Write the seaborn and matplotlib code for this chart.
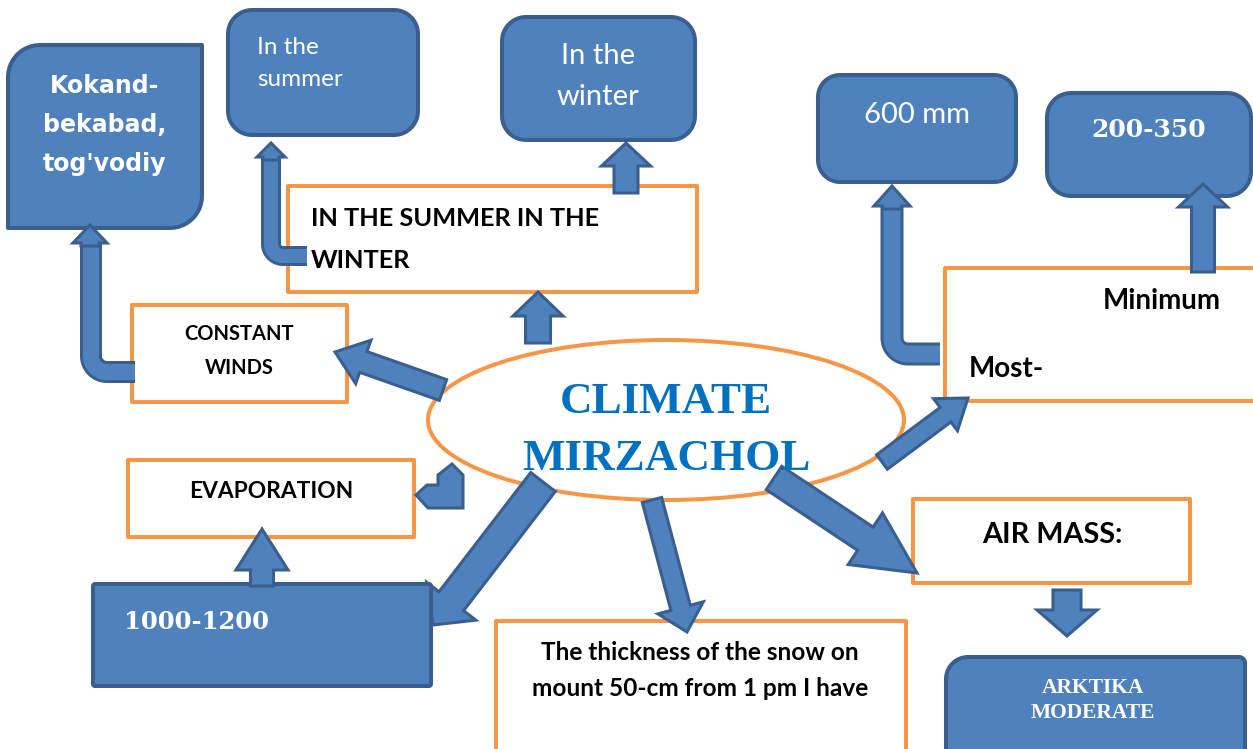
import numpy as np
import matplotlib
matplotlib.use("Agg")
import matplotlib.pyplot as plt
import seaborn as sns
from matplotlib.patches import Polygon, Ellipse

sns.set_theme(style="white")
plt.rcParams['font.family'] = ['Lato', 'DejaVu Sans']

# ---- texts (content) ----
title_lines = ["CLIMATE", "MIRZACHOL"]
kokand_lines = ["Kokand-", "bekabad,", "tog'vodiy"]
summer_lines = ["In the", "summer"]
winter_lines = ["In the", "winter"]
season_lines = ["IN THE SUMMER IN THE", "WINTER"]
winds_lines = ["CONSTANT", "WINDS"]
evap_label = "EVAPORATION"
evap_value = "1000-1200"
snow_lines = ["The thickness of the snow on", "mount 50-cm from 1 pm I have"]
precip_labels = ["Minimum", "Most-"]
precip_most = "600 mm"
precip_min = "200-350"
air_label = "AIR MASS:"
air_lines = ["ARKTIKA", "MODERATE"]

BLUE = "#4F81BD"
BLUE_EDGE = "#3A5F8F"
ORANGE = "#F79646"
TITLE = "#0070C0"

W, H = 1253, 749
fig = plt.figure(figsize=(W / 100, H / 100), dpi=100)
ax = fig.add_axes([0, 0, 1, 1])
ax.set_xlim(0, W)
ax.set_ylim(H, 0)
ax.axis("off")

LW = 2.9  # ~4px


def rounded_pts(x0, y0, x1, y1, radii):
    tl, tr, br, bl = radii
    pts = []

    def arc(cx, cy, r, a0, a1):
        if r <= 0:
            return [(cx, cy)]
        t = np.linspace(a0, a1, 12)
        return list(zip(cx + r * np.cos(t), cy + r * np.sin(t)))
    pts += arc(x0 + tl, y0 + tl, tl, np.pi, 1.5 * np.pi)
    pts += arc(x1 - tr, y0 + tr, tr, 1.5 * np.pi, 2 * np.pi)
    pts += arc(x1 - br, y1 - br, br, 0, 0.5 * np.pi)
    pts += arc(x0 + bl, y1 - bl, bl, 0.5 * np.pi, np.pi)
    return pts


def blue_box(x0, y0, x1, y1, radii=(20, 20, 20, 20), z=3):
    ax.add_patch(Polygon(rounded_pts(x0, y0, x1, y1, radii), closed=True,
                         fc=BLUE, ec=BLUE_EDGE, lw=LW, zorder=z, joinstyle="round"))


def orange_box(x0, y0, x1, y1, z=2):
    ax.add_patch(Polygon([(x0, y0), (x1, y0), (x1, y1), (x0, y1)], closed=True,
                         fc="white", ec=ORANGE, lw=LW, zorder=z, joinstyle="round"))


def block_arrow(tail, tip, shaft, head_w, head_len, z=4):
    tail = np.array(tail, float)
    tip = np.array(tip, float)
    d = tip - tail
    d /= np.linalg.norm(d)
    n = np.array([-d[1], d[0]])
    base = tip - d * head_len
    pts = [tail + n * shaft / 2, base + n * shaft / 2, base + n * head_w / 2, tip,
           base - n * head_w / 2, base - n * shaft / 2, tail - n * shaft / 2]
    ax.add_patch(Polygon(pts, closed=True, fc=BLUE, ec=BLUE_EDGE, lw=2.2, zorder=z,
                         joinstyle="miter"))


def bent_arrow(start, corner, tip, shaft, head_w, head_len, r, z=4):
    sx, sy = start
    cx, cy = corner
    tx, ty = tip
    base_y = ty + head_len
    sgn = 1 if sx > cx else -1
    acx, acy = cx + sgn * r, cy - r
    line = [(sx, sy), (cx + sgn * r, cy)]
    for a in np.linspace(0, np.pi / 2, 20):
        line.append((acx - sgn * r * np.sin(a), acy + r * np.cos(a)))
    line.append((cx, base_y + 1))
    xs, ys = zip(*line)
    ax.plot(xs, ys, color=BLUE_EDGE, lw=(shaft + 4) * 0.72, solid_capstyle="butt",
            solid_joinstyle="round", zorder=z)
    ax.plot(xs, ys, color=BLUE, lw=(shaft - 2) * 0.72, solid_capstyle="butt",
            solid_joinstyle="round", zorder=z + 0.1)
    ax.add_patch(Polygon([(tx - head_w / 2, base_y), (tx, ty), (tx + head_w / 2, base_y),
                          (tx + shaft / 2, base_y), (tx + shaft / 2, base_y + 3),
                          (tx - shaft / 2, base_y + 3), (tx - shaft / 2, base_y)],
                         closed=True, fc=BLUE, ec=BLUE_EDGE, lw=2.2, zorder=z + 0.2))


def text(x, y, s, size, color="black", weight="bold", ha="center", family=None, z=10, **kw):
    fam = family if family else ['Lato', 'DejaVu Sans']
    return ax.text(x, y, s, fontsize=size, color=color, fontweight=weight, ha=ha,
                   va="center", family=fam, zorder=z, **kw)


# ---- ellipse ----
ax.add_patch(Ellipse((666, 420), 476, 160, fc="white", ec=ORANGE, lw=LW, zorder=2))

# ---- orange boxes ----
orange_box(288, 186, 697, 292)
orange_box(132, 305, 347, 402)
orange_box(128, 460, 414, 537)
orange_box(496, 621, 906, 760)
orange_box(913, 499, 1190, 583)
orange_box(945, 268, 1265, 401)

# ---- arrows under blue boxes ----
block_arrow((543, 482), (433, 625), 31, 62, 30, z=3)

# ---- blue boxes ----
blue_box(8, 45, 202, 228, radii=(32, 0, 32, 0), z=5)
blue_box(228, 10, 418, 135, radii=(24, 24, 24, 24), z=5)
blue_box(502, 17, 695, 140, radii=(24, 24, 24, 24), z=5)
blue_box(818, 75, 1016, 182, radii=(22, 22, 22, 22), z=5)
blue_box(1047, 93, 1251, 196, radii=(24, 24, 24, 24), z=5)
blue_box(93, 584, 431, 686, radii=(2, 2, 2, 2), z=5)
blue_box(946, 657, 1245, 770, radii=(22, 6, 22, 6), z=5)

# ---- arrows ----
block_arrow((443, 390), (335, 352), 22, 46, 30, z=6)
block_arrow((538, 343), (538, 292), 25, 50, 24, z=6)
block_arrow((626, 193), (626, 143), 24, 49, 23, z=6)
block_arrow((1203, 272), (1203, 184), 23, 49, 23, z=6)
block_arrow((882, 462), (968, 398), 18, 40, 28, z=6)
block_arrow((774, 478), (917, 573), 28, 62, 62, z=6)
block_arrow((1067, 590), (1067, 636), 28, 60, 26, z=6)
block_arrow((652, 500), (687, 632), 20, 47, 25, z=6)
block_arrow((262, 586), (262, 529), 23, 52, 41, z=6)

bent_arrow((307, 256), (271, 256), (271, 143), 16, 28, 14, 12, z=6)
bent_arrow((135, 372), (91, 372), (90, 225), 18, 34, 18, 16, z=6)
bent_arrow((940, 354), (892, 354), (892, 186), 19, 36, 20, 16, z=6)

# small notched arrow near EVAPORATION
ax.add_patch(Polygon([(416, 495), (427, 485), (438, 485), (438, 475), (452, 464),
                      (463, 475), (463, 508), (428, 508)], closed=True,
                     fc=BLUE, ec=BLUE_EDGE, lw=2.2, zorder=6))

# ---- texts ----
for i, s in enumerate(kokand_lines):
    text(105, 86 + i * 39, s, 17, color="white", weight="heavy", family=['DejaVu Sans'])
for i, s in enumerate(summer_lines):
    text(257, 47 + i * 33, s, 17.5, color="white", weight="normal", ha="left")
for i, s in enumerate(winter_lines):
    text(598, 56 + i * 41, s, 21, color="white", weight="normal")
text(917, 115, precip_most, 21, color="white", weight="normal")
text(1149, 130, precip_min, 18, color="white", weight="bold", family=['DejaVu Serif'])
for i, s in enumerate(season_lines):
    text(311, 219 + i * 41, s, 18.3, ha="left")
for i, s in enumerate(winds_lines):
    text(239, 334 + i * 34, s, 14.5)
text(271, 491, evap_label, 16.4)
text(124, 622, evap_value, 17.5, color="white", weight="bold", ha="left", family=['DejaVu Serif'])
for i, s in enumerate(snow_lines):
    text(700, 652 + i * 37, s, 17.6)
text(1052, 535, air_label, 20.7)
for i, s in enumerate(air_lines):
    text(1093, 688 + i * 25, s, 15.5, color="white", weight="bold", family=['Liberation Serif'])
text(1103, 301, precip_labels[0], 20, ha="left")
text(969, 369, precip_labels[1], 20, ha="left")

# title in ellipse (clipped like a text box)
clip_rect = plt.Rectangle((430, 350), 470, 117, transform=ax.transData)
title_y = [402, 459]
for s, yy in zip(title_lines, title_y):
    t = text(666, yy, s, 32.5, color=TITLE, weight="bold",
             family=['Liberation Serif'], z=8)
    t.set_clip_path(clip_rect)

fig.savefig("out.png", dpi=100)
